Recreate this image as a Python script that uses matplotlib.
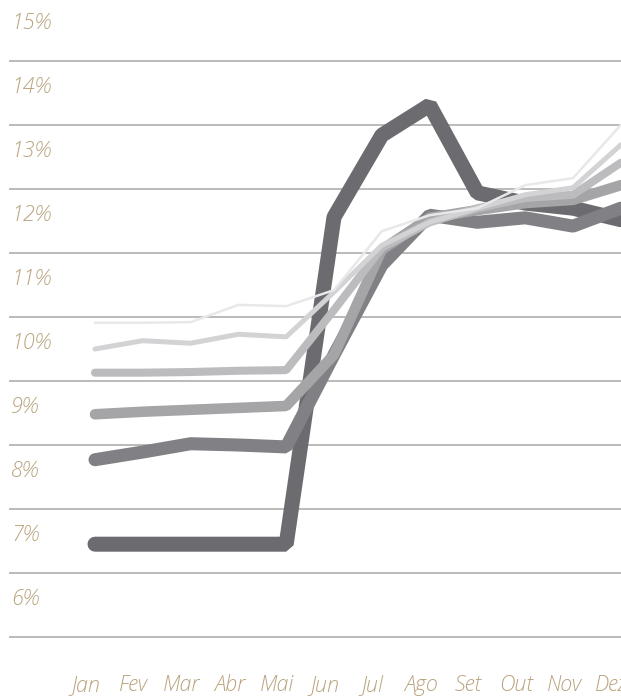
import numpy as np
import matplotlib
matplotlib.use("Agg")
import matplotlib.pyplot as plt
import matplotlib.transforms as mtransforms

months = ["Jan", "Fev", "Mar", "Abr", "Mai", "Jun", "Jul", "Ago", "Set", "Out", "Nov", "Dez"]
ylabels = [15, 14, 13, 12, 11, 10, 9, 8, 7, 6]

# values in %
s1 = [6.95, 6.95, 6.95, 6.95, 6.95, 12.06, 13.34, 13.81, 12.44, 12.28, 12.20, 12.02]
s2 = [8.27, 8.39, 8.52, 8.50, 8.47, 9.91, 11.31, 12.09, 11.98, 12.05, 11.92, 12.20]
s3 = [8.98, 9.02, 9.05, 9.08, 9.11, 9.91, 11.55, 12.05, 12.17, 12.28, 12.33, 12.56]
s4 = [9.63, 9.63, 9.64, 9.66, 9.67, 10.61, 11.58, 11.98, 12.20, 12.36, 12.41, 12.91]
s5 = [10.00, 10.13, 10.09, 10.23, 10.19, 10.89, 11.62, 11.98, 12.20, 12.41, 12.52, 13.19]
s6 = [10.41, 10.41, 10.42, 10.69, 10.67, 10.92, 11.84, 12.09, 12.20, 12.56, 12.67, 13.50]

series = [s1, s2, s3, s4, s5, s6]
colors = ["#6c6c70", "#818185", "#a5a5a8", "#bcbcbf", "#d3d3d5", "#e8e8ea"]
widths = [10.8, 9.4, 7.6, 5.8, 3.6, 1.8]

W, H = 621, 698
fig = plt.figure(figsize=(W / 100, H / 100), dpi=100)
ax = fig.add_axes([0, 0, 1, 1])
ax.set_axis_off()

x0, dx = 95, 47.8
ax.set_xlim(-x0 / dx, (W - x0) / dx)
ax.set_ylim(5.5 - (H - 637) / 64, 5.5 + 637 / 64)

txt = "#b9a47f"
for g in np.arange(5.5, 15, 1.0):
    ax.axhline(g, xmin=10 / W, xmax=1, color="#b4b4b4", lw=1.3, zorder=1)

x = np.arange(len(months))
for s, c, w in zip(series, colors, widths):
    ax.plot(x, s, color=c, lw=w, solid_capstyle="round", solid_joinstyle="bevel",
            zorder=2, clip_on=True)

fam = ["Open Sans", "DejaVu Sans"]
ytrans = mtransforms.blended_transform_factory(ax.transAxes, ax.transData)
for v in ylabels:
    ax.text(11 / W, v + 0.09, f"{v}%", transform=ytrans, ha="left", va="center",
            fontsize=15.5, style="italic", fontweight="light", color=txt, family=fam)

xtrans = mtransforms.blended_transform_factory(ax.transData, ax.transAxes)
for i, m in enumerate(months):
    ax.text(i - 9 / dx, 1 - 685 / H, m, transform=xtrans, ha="center", va="center",
            fontsize=15.5, style="italic", fontweight="light", color=txt, family=fam)

fig.savefig("out.png", dpi=100)
